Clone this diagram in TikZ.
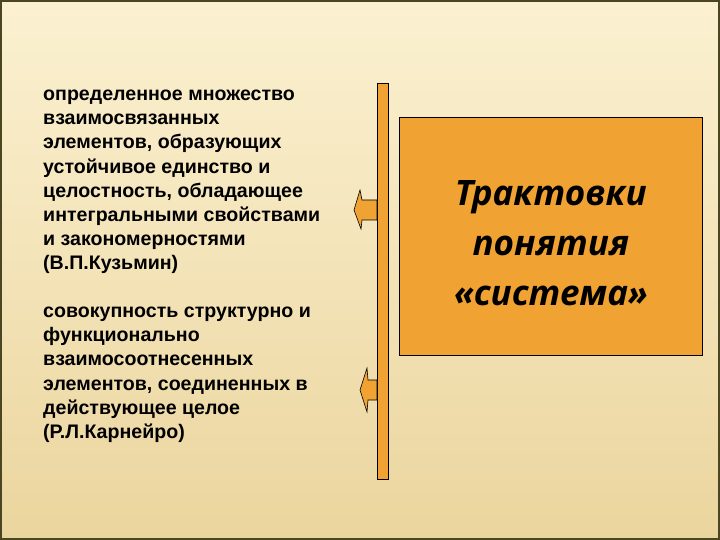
\documentclass[tikz,border=0pt]{standalone}
\usepackage{fontspec}
\setmainfont{Liberation Sans}
\newfontfamily\titlefont{Open Sans}
\definecolor{bgtop}{HTML}{FBF1D1}
\definecolor{bgbot}{HTML}{EBD59E}
\definecolor{frame}{HTML}{4A4622}
\definecolor{orng}{HTML}{F0A232}
\begin{document}
\begin{tikzpicture}[x=1pt,y=-1pt,
  defn/.style={anchor=north west,inner sep=0pt,align=left,
    font=\fontsize{19.6}{24.1}\selectfont\bfseries},
  orangebox/.style={fill=orng,draw=black,line width=0.8pt},
  leftarrow/.style={fill=orng,draw=black,line width=0.6pt,line join=miter}]
\useasboundingbox (0,0) rectangle (720,540);
\shade[top color=bgtop,bottom color=bgbot] (0,0) rectangle (720,540);
\draw[frame,line width=2pt] (1,1) rectangle (719,539);
% vertical bar
\node[orangebox,minimum width=11pt,minimum height=396pt,inner sep=0pt,anchor=north west] (bar) at (377,83) {};
% main box
\node[orangebox,minimum width=303pt,minimum height=238pt,inner sep=0pt,anchor=north west] (box) at (399,117) {};
\node[font=\titlefont\bfseries\itshape\fontsize{35}{50}\selectfont,align=center] (title) at ([yshift=-7pt]box.center) {Трактовки\\понятия\\«система»};
% arrows
\draw[leftarrow] (bar.west |- 0,200) -- (362,200) -- (360,190) -- (354,210) -- (361,229) -- (362,220) -- (bar.west |- 0,220) -- cycle;
\coordinate (a1) at (354,210);
\draw[leftarrow] (bar.west |- 0,380) -- (368,380) -- (367,368) -- (360,390) -- (367,412) -- (368,400) -- (bar.west |- 0,400) -- cycle;
\coordinate (a2) at (360,390);
% texts
\node[defn] (t1) at (43,90) {определенное множество\\взаимосвязанных\\элементов, образующих\\устойчивое единство и\\целостность, обладающее\\интегральными свойствами\\и закономерностями\\(В.П.Кузьмин)};
\node[defn] (t2) at (43,307) {совокупность структурно и\\функционально\\взаимосоотнесенных\\элементов, соединенных в\\действующее целое\\(Р.Л.Карнейро)};
\end{tikzpicture}
\end{document}
